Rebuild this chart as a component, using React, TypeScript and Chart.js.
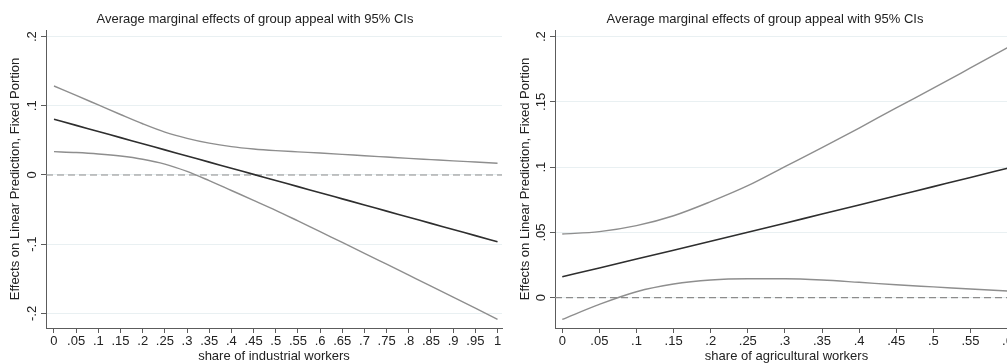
import React, { useEffect, useRef } from 'react';
import { Chart, registerables } from 'chart.js';

Chart.register(...registerables);

const TITLE = 'Average marginal effects of group appeal with 95% CIs';
const Y_TITLE = 'Effects on Linear Prediction, Fixed Portion';

// Left panel: share of industrial workers
const industrialX = [0, 0.05, 0.1, 0.15, 0.2, 0.25, 0.3, 0.35, 0.4, 0.45, 0.5, 0.55, 0.6, 0.65, 0.7, 0.75, 0.8, 0.85, 0.9, 0.95, 1];
const industrialEffect = [0.0805, 0.0717, 0.0628, 0.054, 0.0451, 0.0363, 0.0274, 0.0186, 0.0097, 0.0009, -0.008, -0.0168, -0.0257, -0.0345, -0.0433, -0.0522, -0.061, -0.0699, -0.0787, -0.0876, -0.0964];
const industrialUpper = [0.1286, 0.115, 0.1012, 0.0874, 0.074, 0.062, 0.053, 0.046, 0.041, 0.0376, 0.0352, 0.0334, 0.0317, 0.0298, 0.0278, 0.0259, 0.024, 0.0222, 0.0204, 0.0187, 0.017];
const industrialLower = [0.0337, 0.0324, 0.0304, 0.0274, 0.0228, 0.0158, 0.0052, -0.0082, -0.0224, -0.0366, -0.051, -0.0664, -0.082, -0.0975, -0.1131, -0.1289, -0.1447, -0.1605, -0.1764, -0.1924, -0.2085];
const industrialXTicks = [0, 0.05, 0.1, 0.15, 0.2, 0.25, 0.3, 0.35, 0.4, 0.45, 0.5, 0.55, 0.6, 0.65, 0.7, 0.75, 0.8, 0.85, 0.9, 0.95, 1];
const industrialYTicks = [-0.2, -0.1, 0, 0.1, 0.2];

// Right panel: share of agricultural workers
const agriculturalX = [0, 0.05, 0.1, 0.15, 0.2, 0.25, 0.3, 0.35, 0.4, 0.45, 0.5, 0.55, 0.6];
const agriculturalEffect = [0.0161, 0.0228, 0.0296, 0.0364, 0.0432, 0.0501, 0.0571, 0.0641, 0.0711, 0.0781, 0.0851, 0.0921, 0.0992];
const agriculturalUpper = [0.0488, 0.0506, 0.0552, 0.0628, 0.0736, 0.0858, 0.1004, 0.115, 0.13, 0.1455, 0.1605, 0.176, 0.1916];
const agriculturalLower = [-0.0166, -0.0051, 0.0046, 0.0105, 0.0136, 0.0145, 0.0145, 0.0136, 0.0118, 0.0099, 0.0083, 0.0067, 0.0051];
const agriculturalXTicks = [0, 0.05, 0.1, 0.15, 0.2, 0.25, 0.3, 0.35, 0.4, 0.45, 0.5, 0.55, 0.6];
const agriculturalYTicks = [0, 0.05, 0.1, 0.15, 0.2];

const FONT = "'Liberation Sans', Arial, Helvetica, sans-serif";
const TEXT = '#222222';
const AXIS = '#5c5c5c';
const GRID = '#e9f0f2';
const MAIN = '#2e2e2e';
const CI = '#8e8e8e';

function fmt(v: number): string {
  const r = Math.round(v * 1000) / 1000;
  if (r === 0) return '0';
  return String(r).replace(/^(-?)0\./, '$1.');
}

const zeroLine = {
  id: 'zeroLine',
  beforeDatasetsDraw(chart: any) {
    const { ctx, chartArea, scales } = chart;
    const y = scales.y.getPixelForValue(0);
    ctx.save();
    ctx.strokeStyle = '#8c8c8c';
    ctx.lineWidth = 1.2;
    ctx.setLineDash([7, 4]);
    ctx.beginPath();
    ctx.moveTo(chartArea.left, y);
    ctx.lineTo(chartArea.right, y);
    ctx.stroke();
    ctx.restore();
  },
};

interface PanelSpec {
  xs: number[];
  effect: number[];
  upper: number[];
  lower: number[];
  xTicks: number[];
  yTicks: number[];
  xTitle: string;
  xMin: number;
  xMax: number;
  yMin: number;
  yMax: number;
  yWidth: number;
  padRight: number;
  yTickPad: number;
  yTitlePad: number;
}

function pts(xs: number[], ys: number[]) {
  return xs.map((x, i) => ({ x, y: ys[i] }));
}

function buildConfig(p: PanelSpec): any {
  return {
    type: 'line',
    data: {
      datasets: [
        { data: pts(p.xs, p.effect), borderColor: MAIN, borderWidth: 1.6, cubicInterpolationMode: 'monotone' },
        { data: pts(p.xs, p.upper), borderColor: CI, borderWidth: 1.4, cubicInterpolationMode: 'monotone' },
        { data: pts(p.xs, p.lower), borderColor: CI, borderWidth: 1.4, cubicInterpolationMode: 'monotone' },
      ],
    },
    options: {
      animation: false,
      responsive: false,
      maintainAspectRatio: false,
      layout: { padding: { left: 8, right: p.padRight, top: 0, bottom: 0 } },
      elements: { point: { radius: 0 }, line: { fill: false } },
      plugins: {
        legend: { display: false },
        tooltip: { enabled: false },
        title: {
          display: true,
          text: TITLE,
          color: TEXT,
          font: { family: FONT, size: 13, weight: 'normal', lineHeight: 1 },
          padding: { top: 12.5, bottom: 4.5 },
        },
      },
      scales: {
        x: {
          type: 'linear',
          min: p.xMin,
          max: p.xMax,
          afterBuildTicks: (s: any) => {
            s.ticks = p.xTicks.map((v) => ({ value: v }));
          },
          afterFit: (s: any) => {
            s.height = 35;
          },
          grid: { drawOnChartArea: false, drawTicks: true, tickLength: 5, tickColor: AXIS, color: AXIS },
          border: { display: true, color: AXIS, width: 1 },
          ticks: {
            callback: (v: any) => fmt(Number(v)),
            color: TEXT,
            font: { family: FONT, size: 13 },
            padding: 1,
            minRotation: 0,
            maxRotation: 0,
            autoSkip: false,
          },
          title: {
            display: true,
            text: p.xTitle,
            color: TEXT,
            font: { family: FONT, size: 13, lineHeight: 1 },
            padding: { top: 0, bottom: 0 },
          },
        },
        y: {
          type: 'linear',
          min: p.yMin,
          max: p.yMax,
          afterBuildTicks: (s: any) => {
            s.ticks = p.yTicks.map((v) => ({ value: v }));
          },
          afterFit: (s: any) => {
            s.width = p.yWidth;
          },
          grid: { color: GRID, drawTicks: true, tickLength: 5, tickColor: AXIS },
          border: { display: true, color: AXIS, width: 1 },
          ticks: {
            callback: (v: any) => fmt(Number(v)),
            color: TEXT,
            font: { family: FONT, size: 13 },
            minRotation: 90,
            maxRotation: 90,
            crossAlign: 'center',
            padding: p.yTickPad,
            autoSkip: false,
          },
          title: {
            display: true,
            text: Y_TITLE,
            color: TEXT,
            font: { family: FONT, size: 13, lineHeight: 1 },
            padding: { top: p.yTitlePad, bottom: 0 },
          },
        },
      },
    },
    plugins: [zeroLine],
  };
}

const leftSpec: PanelSpec = {
  xs: industrialX,
  effect: industrialEffect,
  upper: industrialUpper,
  lower: industrialLower,
  xTicks: industrialXTicks,
  yTicks: industrialYTicks,
  xTitle: 'share of industrial workers',
  xMin: -0.018,
  xMax: 1.0101,
  yMin: -0.2211,
  yMax: 0.2095,
  yWidth: 38,
  padRight: 2,
  yTickPad: 1.4,
  yTitlePad: 0.5,
};

const rightSpec: PanelSpec = {
  xs: agriculturalX,
  effect: agriculturalEffect,
  upper: agriculturalUpper,
  lower: agriculturalLower,
  xTicks: agriculturalXTicks,
  yTicks: agriculturalYTicks,
  xTitle: 'share of agricultural workers',
  xMin: -0.0098,
  xMax: 0.6141,
  yMin: -0.0232,
  yMax: 0.2051,
  yWidth: 43,
  padRight: 0,
  yTickPad: 0,
  yTitlePad: 6.5,
};

function Panel({ spec, left, width }: { spec: PanelSpec; left: number; width: number }) {
  const ref = useRef<HTMLCanvasElement | null>(null);
  useEffect(() => {
    if (!ref.current) return;
    const chart = new Chart(ref.current, buildConfig(spec));
    return () => chart.destroy();
  }, [spec]);
  return (
    <canvas
      ref={ref}
      width={width}
      height={363}
      style={{ position: 'absolute', left, top: 0, width, height: 363 }}
    />
  );
}

export default function App() {
  return (
    <div
      style={{
        position: 'fixed',
        left: 0,
        top: 0,
        width: 1007,
        height: 363,
        overflow: 'hidden',
        background: '#ffffff',
      }}
    >
      <Panel spec={leftSpec} left={0} width={504} />
      <Panel spec={rightSpec} left={504} width={514} />
    </div>
  );
}
